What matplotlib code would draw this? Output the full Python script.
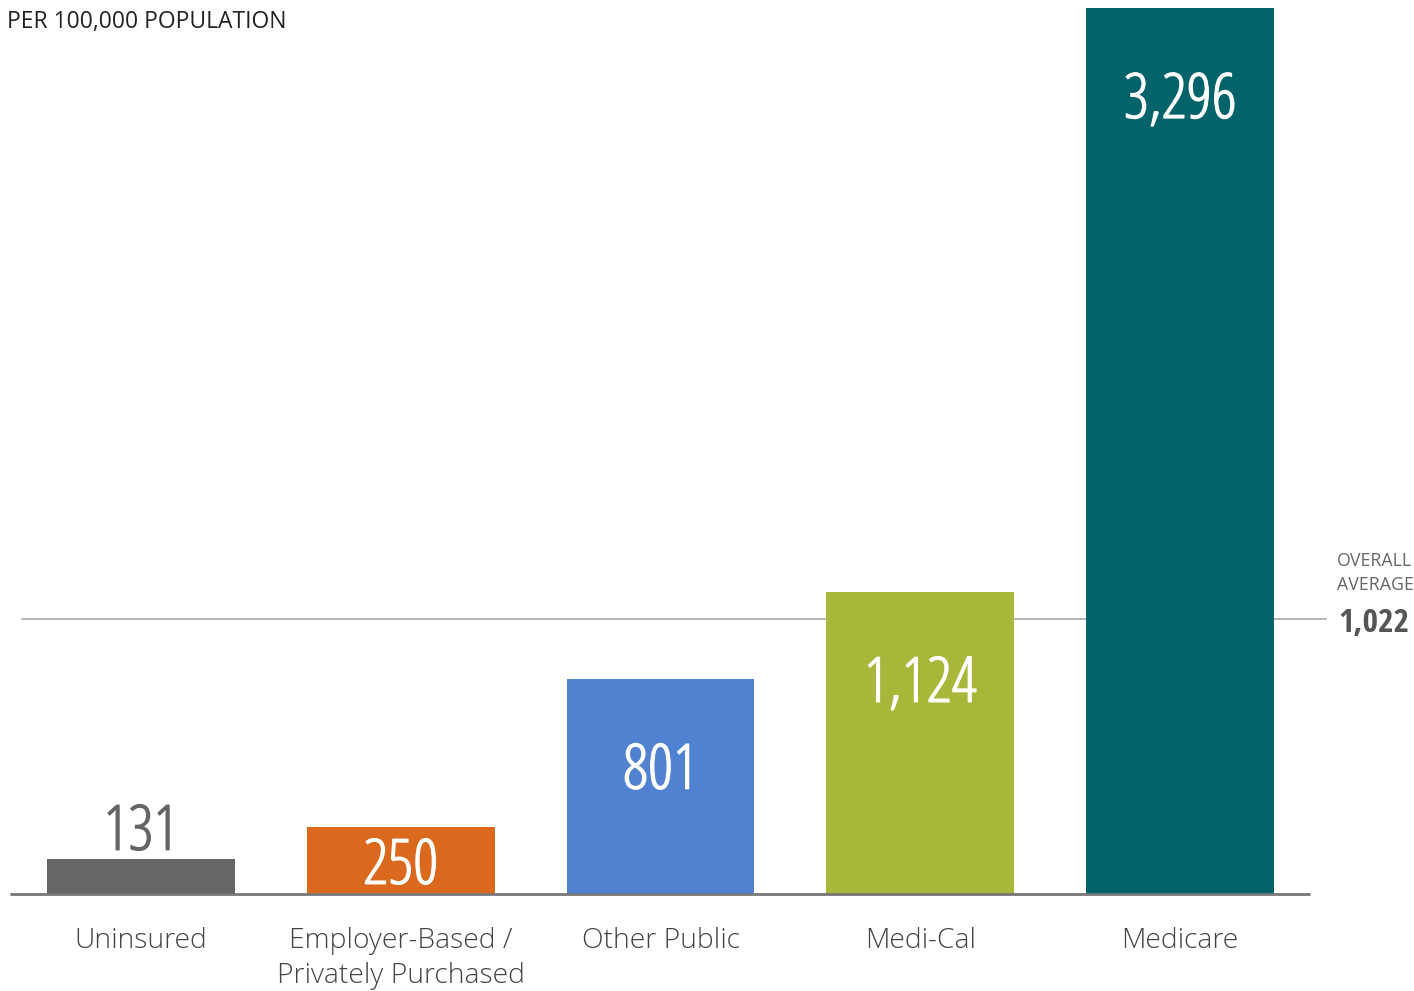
import matplotlib
matplotlib.use("Agg")
import matplotlib.pyplot as plt
import matplotlib.patheffects as pe

categories = ["Uninsured", "Employer-Based /\nPrivately Purchased", "Other Public", "Medi-Cal", "Medicare"]
values = [131, 250, 801, 1124, 3296]
value_labels = ["131", "250", "801", "1,124", "3,296"]
colors = ["#666666", "#da681d", "#5182d1", "#a8b639", "#02636b"]
average = 1022

W, H = 1414, 991
fig = plt.figure(figsize=(W / 100, H / 100), dpi=100)
# axes placed in pixel terms: baseline at y=894, top of tallest bar at y=8
ax = fig.add_axes([10 / W, (H - 894) / H, 1300 / W, 886 / H])
ax.set_xlim(-0.504, 4.5)
ax.set_ylim(0, 3296)
ax.axis("off")
upx = 3296 / 886  # data units per pixel

num_font = ["Open Sans", "DejaVu Sans"]
txt_font = ["Open Sans", "DejaVu Sans"]

x = list(range(len(values)))
ax.plot([-0.458, 4.56], [average, average], color="#aaaaaa", lw=1.2, zorder=1, clip_on=False)
ax.bar(x, values, width=0.723, color=colors, zorder=2)
ax.plot([-0.504, 4.5], [0, 0], color="#777777", lw=2, zorder=3, clip_on=False, solid_capstyle="butt")

for i, (v, lab) in enumerate(zip(values, value_labels)):
    if v < 200:
        y, col = v + 9 * upx, "#666666"
    elif v < 500:
        y, col = v - 57 * upx, "white"
    else:
        y, col = v - 110 * upx, "white"
    # light condensed cut is a touch thin, thicken it slightly
    ax.text(i, y, lab, ha="center", va="baseline", fontsize=45, color=col,
            family=num_font, fontstretch="condensed", weight=300, zorder=4,
            path_effects=[pe.withStroke(linewidth=0.9, foreground=col)])

for i, c in enumerate(categories):
    ax.text(i, -33 * upx, c, ha="center", va="top", fontsize=20.3, color="#444444",
            family=txt_font, weight=300, linespacing=1.33)

fig.text(7 / W, 1 - 22 / H, "PER 100,000 POPULATION", ha="left", va="center",
         fontsize=16.5, color="#222222", family=txt_font)
fig.text(1337 / W, 1 - 573 / H, "OVERALL\nAVERAGE", ha="left", va="center",
         fontsize=12.8, color="#666666", family=txt_font, linespacing=1.45)
fig.text(1338 / W, 1 - 632 / H, "1,022", ha="left", va="baseline",
         fontsize=24, color="#555555", family=["Open Sans Condensed", "DejaVu Sans"],
         fontstretch="condensed", weight="bold")

fig.savefig("out.png", dpi=100)
